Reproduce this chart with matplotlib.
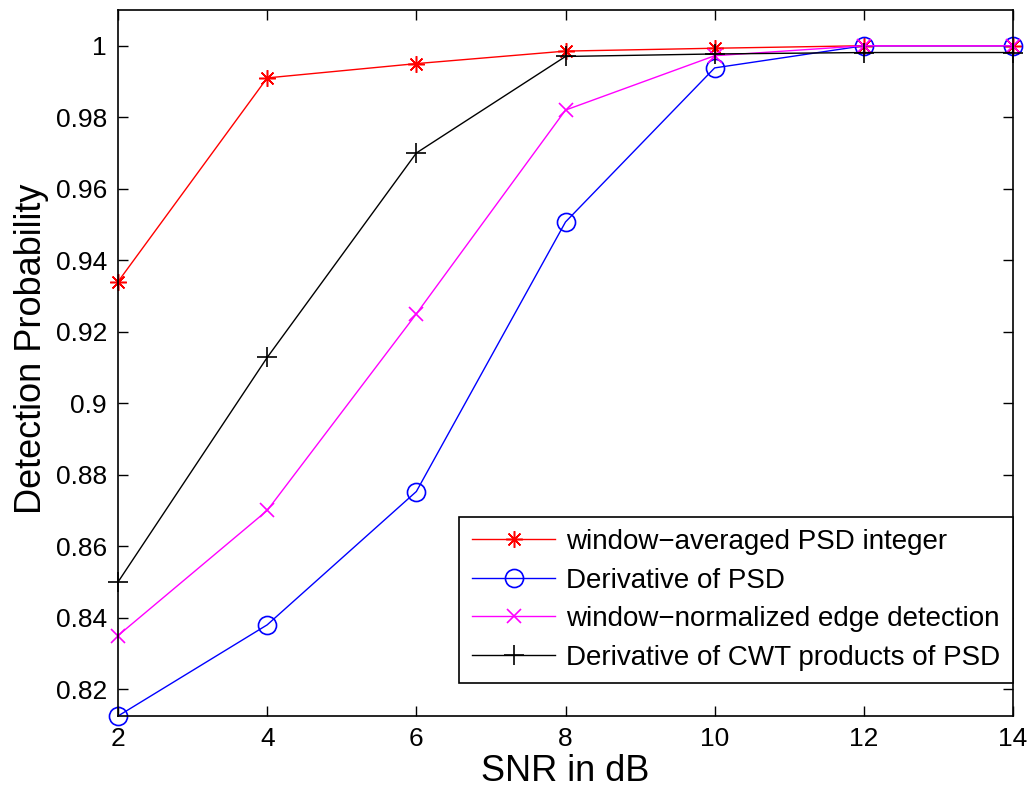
import numpy as np
from matplotlib import pyplot as plt

plt.rcParams.update({'font.family': 'Liberation Sans', 'font.size': 19})

snr = [2, 4, 6, 8, 10, 12, 14]
pd_wa_psd = [0.934, 0.991, 0.995, 0.9985, 0.9993, 1.0, 1.0]
pd_deriv_psd = [0.8125, 0.838, 0.8753, 0.9507, 0.9938, 1.0, 1.0]
pd_wn_edge = [0.835, 0.870, 0.925, 0.9820, 0.9972, 1.0, 1.0]
pd_cwt = [0.850, 0.9128, 0.970, 0.9970, 0.9977, 0.9981, 0.9981]

labels = ["window\u2212averaged PSD integer",
          "Derivative of PSD",
          "window\u2212normalized edge detection",
          "Derivative of CWT products of PSD"]

fig = plt.figure(figsize=(10.31, 7.93), dpi=100)
ax = fig.add_axes([0.1145, 0.0971, 0.868, 0.8903])

# asterisk marker with 8 arms, like '+' and 'x' overlaid
star = (8, 2, 0)
ax.plot(snr, pd_wa_psd, color='red', marker=star, ms=12, mew=1.1, lw=1, label=labels[0], clip_on=False)
ax.plot(snr, pd_deriv_psd, color='blue', marker='o', ms=13, mfc='none', mew=1.2, lw=1, label=labels[1], clip_on=False)
ax.plot(snr, pd_wn_edge, color='magenta', marker='x', ms=10, mew=1.2, lw=1, label=labels[2], clip_on=False)
ax.plot(snr, pd_cwt, color='black', marker='+', ms=14, mew=1.2, lw=1, label=labels[3], clip_on=False)

ax.set_xlim(2, 14)
ax.set_ylim(0.8125, 1.01)
ax.set_xticks(np.arange(2, 15, 2))
yt = np.arange(0.82, 1.001, 0.02)
ax.set_yticks(yt)
ax.set_yticklabels(["%g" % round(v, 2) for v in yt])
ax.tick_params(direction='in', top=True, right=True, length=7, width=1, pad=8)
for s in ax.spines.values():
    s.set_linewidth(1.2)

ax.set_xlabel("SNR in dB", fontsize=26, labelpad=2)
ax.set_ylabel("Detection Probability", fontsize=26)
ax.yaxis.set_label_coords(-0.077, 0.52)

leg = ax.legend(loc='lower right', bbox_to_anchor=(1.0, 0.0467), borderaxespad=0,
                fancybox=False, framealpha=1, edgecolor='black', handlelength=3.0,
                handletextpad=0.4, labelspacing=0.45, borderpad=0.45, fontsize=20)
leg.get_frame().set_linewidth(1.2)

plt.savefig("out.png")
